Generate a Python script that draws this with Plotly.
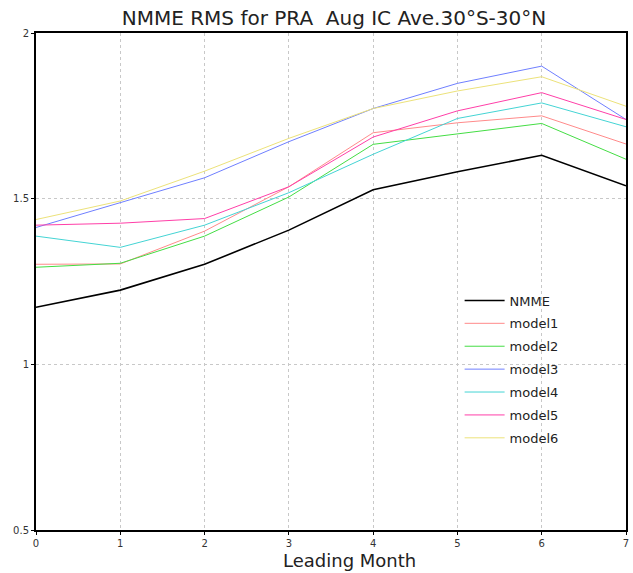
import plotly.graph_objects as go

months = [0, 1, 2, 3, 4, 5, 6, 7]
series_names = ["NMME", "model1", "model2", "model3", "model4", "model5", "model6"]
nmme   = [1.172, 1.224, 1.302, 1.405, 1.527, 1.581, 1.631, 1.539]
model1 = [1.302, 1.303, 1.402, 1.536, 1.699, 1.729, 1.750, 1.665]
model2 = [1.293, 1.305, 1.387, 1.505, 1.664, 1.695, 1.727, 1.619]
model3 = [1.413, 1.487, 1.563, 1.672, 1.772, 1.848, 1.900, 1.739]
model4 = [1.387, 1.353, 1.420, 1.518, 1.634, 1.742, 1.789, 1.717]
model5 = [1.420, 1.426, 1.440, 1.536, 1.686, 1.765, 1.820, 1.739]
model6 = [1.437, 1.493, 1.583, 1.682, 1.772, 1.825, 1.868, 1.779]
y_ticks = [0.5, 1, 1.5, 2]
y_tick_labels = ["0.5", "1", "1.5", "2"]

values = [nmme, model1, model2, model3, model4, model5, model6]
colors = ["#000000", "#ff8a8a", "#44dd44", "#6f7fff", "#44d4d4", "#ff3fa8", "#ece27a"]
widths = [1.6, 1, 1, 1, 1, 1, 1]

fig = go.Figure()
for i, (name, vals) in enumerate(zip(series_names, values)):
    fig.add_trace(go.Scatter(
        x=months, y=vals, mode="lines", name=name,
        legendgroup=name,
        line=dict(color=colors[i], width=widths[i]),
    ))

font_family = "DejaVu Sans"
fig.update_layout(
    width=633, height=573,
    margin=dict(l=36, r=7, t=33, b=43),
    paper_bgcolor="white", plot_bgcolor="white",
    font=dict(family=font_family, color="#222"),
    title=dict(text="NMME RMS for PRA  Aug IC Ave.30°S-30°N",
               x=0.5276, xanchor="center", y=0.969, yanchor="middle",
               font=dict(size=20, family=font_family, color="#222")),
    showlegend=True,
    legend=dict(x=0.718, xanchor="left", y=0.492, yanchor="top",
                bgcolor="rgba(0,0,0,0)", font=dict(size=13, family=font_family, color="#222"),
                tracegroupgap=3, itemwidth=40),
    xaxis=dict(range=[0, 7], tickvals=months, ticktext=[str(m) for m in months],
               showgrid=True, gridcolor="#c8c8c8", griddash="dot", gridwidth=1,
               showline=True, linecolor="black", linewidth=1.5, mirror=True,
               ticks="outside", ticklen=3, tickcolor="black",
               tickfont=dict(size=10, color="#333"),
               zeroline=False, automargin=False),
    yaxis=dict(range=[0.5, 2], tickvals=y_ticks, ticktext=y_tick_labels,
               showgrid=True, gridcolor="#c8c8c8", griddash="dot", gridwidth=1,
               showline=True, linecolor="black", linewidth=2, mirror=True,
               ticks="outside", ticklen=3, tickcolor="black",
               tickfont=dict(size=10, color="#333"),
               zeroline=False, automargin=False),
    annotations=[dict(text="Leading Month", xref="paper", yref="paper",
                      x=0.532, y=0, xanchor="center", yanchor="top", yshift=-18,
                      showarrow=False, font=dict(size=18, family=font_family, color="#222"))],
)

fig.write_html("out.html", config={"displayModeBar": False},
               post_script="document.body.style.margin='0';document.body.style.overflow='hidden';")
